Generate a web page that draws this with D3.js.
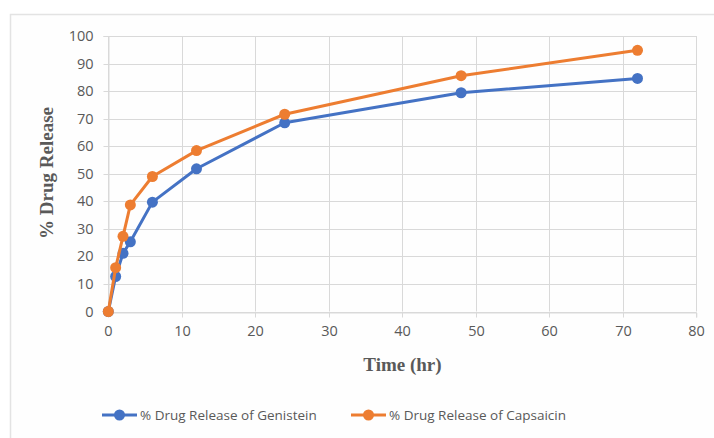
<!DOCTYPE html>
<html>
<head>
<meta charset="utf-8">
<script src="https://cdn.jsdelivr.net/npm/d3@7"></script>
<style>
  html, body { margin: 0; padding: 0; background: #ffffff; }
  svg { display: block; }
</style>
</head>
<body>
<svg id="chart" width="714" height="438"></svg>
<script>
// ---- data ----
const timeHr = [0, 1, 2, 3, 6, 12, 24, 48, 72];
const genistein = [0, 12.7, 21.1, 25.3, 39.7, 51.8, 68.5, 79.4, 84.6];
const capsaicin = [0, 15.9, 27.3, 38.7, 49.0, 58.4, 71.6, 85.6, 94.8];
const seriesNames = ["% Drug Release of Genistein", "% Drug Release of Capsaicin"];
const xTicks = [0, 10, 20, 30, 40, 50, 60, 70, 80];
const yTicks = [0, 10, 20, 30, 40, 50, 60, 70, 80, 90, 100];
const xTitle = "Time (hr)";
const yTitle = "% Drug Release";

// ---- layout ----
const svg = d3.select("#chart");
const colors = ["#4472C4", "#ED7D31"];
const gridColor = "#d9d9d9";
const textColor = "#595959";
const tickFont = "'Open Sans', sans-serif";

svg.append("rect").attr("x", 10.5).attr("y", 14.5).attr("width", 730).attr("height", 440)
  .attr("fill", "#fefefe").attr("stroke", "#e3e3e3").attr("stroke-width", 1.5);

const x = d3.scaleLinear().domain([0, 80]).range([108.3, 696.3]);
const y = d3.scaleLinear().domain([0, 100]).range([311.5, 36]);

// gridlines
svg.append("g").selectAll("line.h").data(yTicks).join("line")
  .attr("x1", x(0)).attr("x2", x(80))
  .attr("y1", d => Math.round(y(d)) + 0.5).attr("y2", d => Math.round(y(d)) + 0.5)
  .attr("stroke", gridColor).attr("stroke-width", 1);
svg.append("g").selectAll("line.v").data(xTicks).join("line")
  .attr("x1", d => Math.round(x(d)) + 0.5).attr("x2", d => Math.round(x(d)) + 0.5)
  .attr("y1", y(0)).attr("y2", y(100))
  .attr("stroke", gridColor).attr("stroke-width", 1);

// axes
const xAxis = d3.axisBottom(x).tickValues(xTicks).tickSize(5).tickPadding(8).tickFormat(d3.format("d"));
const yAxis = d3.axisLeft(y).tickValues(yTicks).tickSize(5).tickPadding(10).tickFormat(d3.format("d"));

const gx = svg.append("g").attr("transform", `translate(0,${Math.round(y(0)) + 0.5})`).call(xAxis);
const gy = svg.append("g").attr("transform", `translate(${Math.round(x(0)) + 0.5},0)`).call(yAxis);
[gx, gy].forEach(g => {
  g.select(".domain").attr("stroke", gridColor).attr("stroke-width", 1);
  g.selectAll(".tick line").attr("stroke", gridColor);
  g.selectAll(".tick text").attr("fill", textColor)
    .style("font-family", tickFont).style("font-size", "14.5px");
});
gy.selectAll(".tick").attr("transform", d => `translate(0,${Math.round(y(d)) + 0.5})`);
gx.selectAll(".tick").attr("transform", d => `translate(${Math.round(x(d)) + 0.5},0)`);

// axis titles
svg.append("text").attr("x", 402.5).attr("y", 371)
  .attr("text-anchor", "middle").attr("fill", textColor)
  .style("font-family", "'Liberation Serif', serif").style("font-weight", "bold").style("font-size", "19px")
  .text(xTitle);
svg.append("text").attr("transform", "translate(53,173) rotate(-90)")
  .attr("text-anchor", "middle").attr("fill", textColor)
  .style("font-family", "'Liberation Serif', serif").style("font-weight", "bold").style("font-size", "19px")
  .text(yTitle);

// series
const seriesData = [genistein, capsaicin];
const line = d3.line().x(d => x(d[0])).y(d => y(d[1]));
seriesData.forEach((vals, i) => {
  const pts = timeHr.map((t, j) => [t, vals[j]]);
  const g = svg.append("g");
  g.append("path").datum(pts).attr("d", line)
    .attr("fill", "none").attr("stroke", colors[i]).attr("stroke-width", 3)
    .attr("stroke-linejoin", "round");
  g.selectAll("circle").data(pts).join("circle")
    .attr("cx", d => x(d[0])).attr("cy", d => y(d[1])).attr("r", 5.5)
    .attr("fill", colors[i]);
});

// legend
const legendItems = [{ x0: 102, text: seriesNames[0] }, { x0: 351, text: seriesNames[1] }];
legendItems.forEach((it, i) => {
  const g = svg.append("g").attr("transform", `translate(${it.x0},415)`);
  g.append("line").attr("x1", 0).attr("x2", 35).attr("y1", 0).attr("y2", 0)
    .attr("stroke", colors[i]).attr("stroke-width", 3);
  g.append("circle").attr("cx", 17.5).attr("cy", 0).attr("r", 5.5).attr("fill", colors[i]);
  g.append("text").attr("x", 38).attr("y", 5)
    .attr("fill", textColor).style("font-family", tickFont).style("font-size", "13.5px")
    .text(it.text);
});
</script>
</body>
</html>
